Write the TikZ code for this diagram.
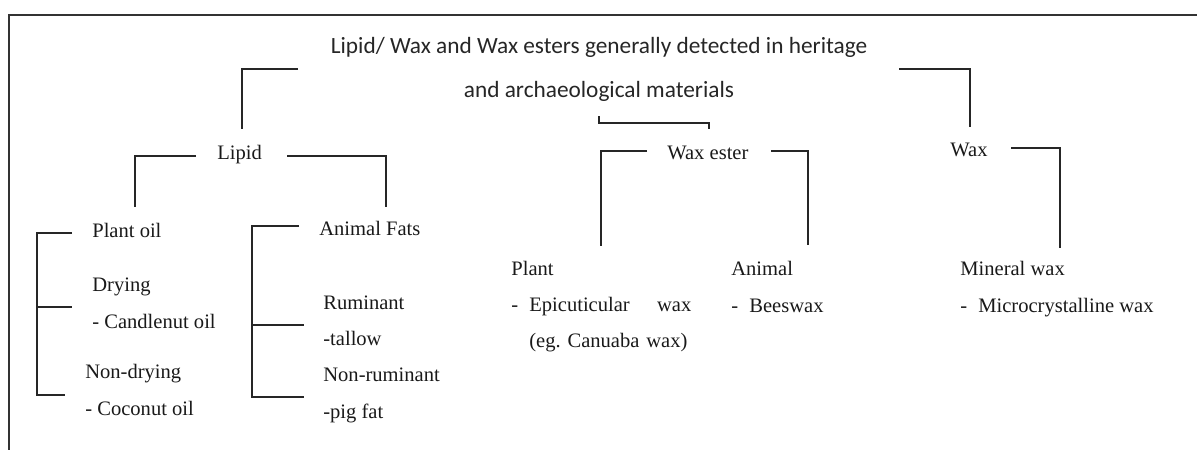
\documentclass[tikz,border=0pt]{standalone}
\usepackage{fontspec}
\setmainfont{Liberation Serif}
\newfontfamily\titlefont{Carlito}
\newcommand{\itemdash}{\makebox[0.36cm][l]{-}}
\frenchspacing
\begin{document}
\begin{tikzpicture}[x=0.02cm,y=-0.02cm,
		line/.style={draw=black!85,line width=0.6pt},
		lbl/.style={anchor=base west,inner sep=0pt,text=black!90,align=left,font=\fontsize{11.7}{20.5}\selectfont}]
		  \useasboundingbox (0,0) rectangle (1197,450);
		  \draw[black!80,line width=1.1pt] (1197,15) -- (9,15) -- (9,450);
		  \node[inner sep=0pt,anchor=base,align=center,text=black!85,font=\titlefont\fontsize{13.26}{24.5}\selectfont] (title) at (599,97) {Lipid/ Wax and Wax esters generally detected in heritage\\and archaeological materials};
		  \node[lbl] (lipid) at (217,159) {Lipid};
		  \node[lbl] (waxester) at (667,159) {Wax ester};
		  \node[lbl] (wax) at (950,156) {Wax};
		  \node[lbl] (plantoil) at (92,237) {Plant oil};
		  \node[lbl] (drying) at (92,328) {Drying\\- Candlenut oil};
		  \node[lbl] (nondrying) at (85,415) {Non-drying\\- Coconut oil};
		  \node[lbl] (animalfats) at (319,235) {Animal Fats};
		  \node[lbl] (ruminant) at (323,418) {Ruminant\\-tallow\\Non-ruminant\\-pig fat};
		  \node[lbl,text width=3.6cm] (plant) at (511,275) {Plant\\\itemdash Epicuticular\hfill wax\\\hspace*{0.36cm}(eg. Canuaba wax)};
		  \node[lbl] (animal) at (731,312) {Animal\\\itemdash Beeswax};
		  \node[lbl] (mineral) at (960,312) {Mineral wax\\\itemdash Microcrystalline wax};
		  \coordinate (t1) at (298,69);
		  \coordinate (t1e) at (242,129);
		  \coordinate (t2) at (599,116);
		  \coordinate (t2e) at (709,129);
		  \coordinate (t3) at (899,69);
		  \coordinate (t3e) at (970,127);
		  \coordinate (l1) at (196,156);
		  \coordinate (l1e) at (135,207);
		  \coordinate (l2) at (287,156);
		  \coordinate (l2e) at (386,207);
		  \coordinate (e1) at (647,151);
		  \coordinate (e1e) at (601,246);
		  \coordinate (e2) at (771,151);
		  \coordinate (e2e) at (808,245);
		  \coordinate (w1) at (1011,148);
		  \coordinate (w1e) at (1060,248);
		  \coordinate (p1) at (72,233);
		  \coordinate (p2) at (37,395);
		  \coordinate (p3) at (65,395);
		  \coordinate (p4) at (37,307);
		  \coordinate (p5) at (72,307);
		  \coordinate (f1) at (299,226);
		  \coordinate (f2) at (252,397);
		  \coordinate (f3) at (304,397);
		  \coordinate (f4) at (252,325);
		  \coordinate (f5) at (304,325);
		  \draw[line] (t1) -| (t1e);
		  \draw[line] (t2) -- ++(0,7) -| (t2e);
		  \draw[line] (t3) -| (t3e);
		  \draw[line] (l1) -| (l1e);
		  \draw[line] (l2) -| (l2e);
		  \draw[line] (e1) -| (e1e);
		  \draw[line] (e2) -| (e2e);
		  \draw[line] (w1) -| (w1e);
		  \draw[line] (p1) -| (p2) -- (p3);
		  \draw[line] (p4) -- (p5);
		  \draw[line] (f1) -| (f2) -- (f3);
		  \draw[line] (f4) -- (f5);
		\end{tikzpicture}
\end{document}
